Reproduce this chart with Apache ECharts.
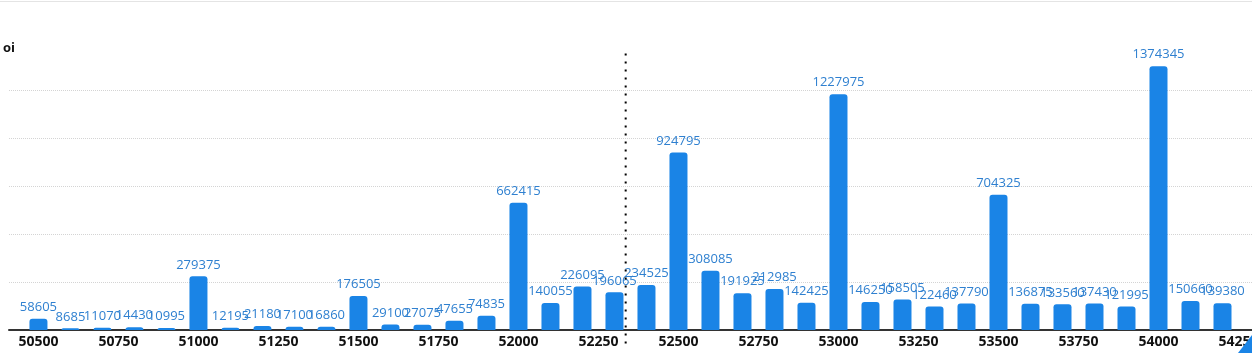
<!DOCTYPE html>
<html>
<head>
<meta charset="utf-8">
<style>
  html, body { margin: 0; padding: 0; background: #fff; overflow: hidden; }
  #topline { position: absolute; left: 0; top: 1px; width: 1252px; height: 1px; background: #e4e4e4; }
  #main { width: 1300px; height: 353px; }
</style>
<script src="https://cdn.jsdelivr.net/npm/echarts@6/dist/echarts.min.js"></script>
</head>
<body>
<div id="topline"></div>
<div id="main"></div>
<script>
// strikes (x) and open interest (y)
var strikes = [50500, 50600, 50700, 50800, 50900, 51000, 51100, 51200, 51300, 51400,
  51500, 51600, 51700, 51800, 51900, 52000, 52100, 52200, 52300, 52400,
  52500, 52600, 52700, 52800, 52900, 53000, 53100, 53200, 53300, 53400,
  53500, 53600, 53700, 53800, 53900, 54000, 54100, 54200];
var oiValues = [58605, 8685, 11070, 14430, 10995, 279375, 12195, 21180, 17100, 16860,
  176505, 29100, 27075, 47655, 74835, 662415, 140055, 226095, 196065, 234525,
  924795, 308085, 191925, 212985, 142425, 1227975, 146250, 158505, 122460, 137790,
  704325, 136875, 133560, 137430, 121995, 1374345, 150660, 139380];
var xTickLabels = [50500, 50750, 51000, 51250, 51500, 51750, 52000, 52250,
  52500, 52750, 53000, 53250, 53500, 53750, 54000, 54250];
var spotPrice = 52335;

var barColor = '#1a84e6';
var chart = echarts.init(document.getElementById('main'), null, { renderer: 'canvas' });

var seriesData = [];
for (var i = 0; i < strikes.length; i++) {
  seriesData.push([strikes[i], oiValues[i]]);
}

chart.setOption({
  animation: false,
  textStyle: { fontFamily: 'Open Sans' },
  grid: { left: 9, right: 29.5, top: 42, bottom: 23 },
  xAxis: {
    type: 'value',
    min: 50408,
    max: 54350,
    axisLine: { show: true, lineStyle: { color: '#333', width: 2 } },
    axisTick: { show: false },
    splitLine: { show: false },
    axisLabel: {
      customValues: xTickLabels,
      formatter: function (v) { return String(v); },
      color: '#111',
      fontWeight: 'bold',
      fontSize: 14,
      margin: 5
    }
  },
  yAxis: {
    type: 'value',
    min: 0,
    max: 1500000,
    interval: 250000,
    name: 'oi',
    nameLocation: 'end',
    nameGap: -6,
    nameTextStyle: { color: '#111', fontWeight: 'bold', fontSize: 13, verticalAlign: 'middle', align: 'center' },
    axisLine: { show: false },
    axisTick: { show: false },
    axisLabel: { show: false },
    splitLine: {
      show: true,
      showMaxLine: false,
      lineStyle: { color: '#d4d4d4', type: 'dotted' }
    }
  },
  series: [{
    name: 'oi',
    type: 'bar',
    data: seriesData,
    barWidth: 18,
    itemStyle: { color: barColor, borderRadius: [3, 3, 0, 0] },
    label: {
      show: true,
      position: 'top',
      distance: 5,
      color: '#2f80d0',
      fontSize: 13
    }
  }]
});

// spot marker, placed through the axes
var sx = chart.convertToPixel({ xAxisIndex: 0 }, spotPrice);
var sTop = chart.convertToPixel({ yAxisIndex: 0 }, 1440000);
var sBottom = chart.convertToPixel({ yAxisIndex: 0 }, 0) + 15;

chart.setOption({
  graphic: [{
    type: 'line',
    shape: { x1: sx, y1: sTop, x2: sx, y2: sBottom },
    style: { stroke: '#000', lineWidth: 2, lineDash: [2, 6] },
    z: 10
  }, {
    type: 'polygon',
    shape: { points: [[1238, 353], [1252, 335], [1252, 353]] },
    style: { fill: barColor },
    z: 10
  }]
});
</script>
</body>
</html>
